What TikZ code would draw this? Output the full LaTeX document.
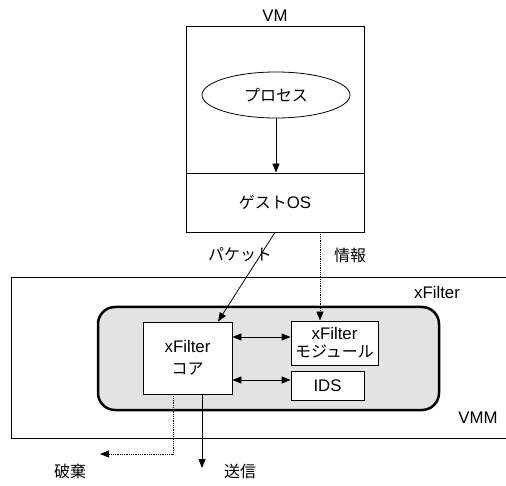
\documentclass[tikz,border=0pt]{standalone}
\usepackage{fontspec}
\setmainfont{Liberation Sans}
\newfontfamily\jp[Scale=0.95]{Noto Sans CJK JP}
\usetikzlibrary{arrows.meta,shapes.geometric}
\begin{document}
\begin{tikzpicture}[x=1pt,y=-1pt,
  font=\fontsize{16.8}{19}\selectfont,
  thin line/.style={line width=0.8pt},
  box/.style={draw, thin line, fill=white, inner sep=0pt, align=center},
  tip/.style={-{Triangle[length=9pt,width=7pt]}},
  arr/.style={thin line, tip},
  darr/.style={thin line, {Triangle[length=9pt,width=7pt]}-{Triangle[length=9pt,width=7pt]}},
  dotarr/.style={thin line, tip, densely dotted},
  lbl/.style={inner sep=0pt}]
\useasboundingbox (0,0) rectangle (506,486);

% virtual machine
\node[box, minimum width=178pt, minimum height=147pt] (vm) at (275,99.5) {};
\node[box, minimum width=178pt, minimum height=59pt] (gos) at (275,202.5) {{\jp ゲスト}OS};
\node[lbl] (vmlbl) at (275,16) {VM};
\node[draw, thin line, ellipse, minimum width=148pt, minimum height=46pt, inner sep=0pt] (proc) at (276,95) {\jp プロセス};
\draw[arr] (proc.south) -- (proc.south |- gos.north);

% VMM area (its right side runs off the page)
\draw[thin line] (520,277) -| (11,438) -- (520,438);
\node[lbl] (vmmlbl) at (478,418) {VMM};
\node[lbl] (xflbl) at (437,292) {xFilter};

% xFilter
\draw[line width=2.5pt, fill=black!11, rounded corners=17pt] (98,307) rectangle (439,410);
\node[box, minimum width=89pt, minimum height=72pt, font=\fontsize{16.8}{22}\selectfont] (core) at (187.5,358) {xFilter\\{\jp コア}};
\node[box, minimum width=87pt, minimum height=44pt, font=\fontsize{16.8}{18}\selectfont] (mod) at (334.5,343) {xFilter\\{\jp モジュール}};
\node[box, minimum width=73pt, minimum height=29pt] (ids) at (327.5,385.5) {IDS};

\draw[darr] (core.east |- 0,337) -- (mod.west |- 0,337);
\draw[darr] (core.east |- 0,380) -- (ids.west |- 0,380);

% traffic from the guest
\draw[arr] (gos.south) -- (core.north -| 218,0);
\node[lbl] (pkt) at (240,255) {\jp パケット};
\draw[dotarr] (gos.south -| 320,0) -- (mod.north -| 320,0);
\node[lbl] (info) at (350,255) {\jp 情報};

% results
\coordinate (drop) at (100,454);
\coordinate (send) at (202,468);
\draw[dotarr] (core.south -| 173,0) |- (drop);
\draw[arr] (core.south -| send) -- (send);
\node[lbl] (droplbl) at (70,471) {\jp 破棄};
\node[lbl] (sendlbl) at (240,471) {\jp 送信};
\end{tikzpicture}
\end{document}
